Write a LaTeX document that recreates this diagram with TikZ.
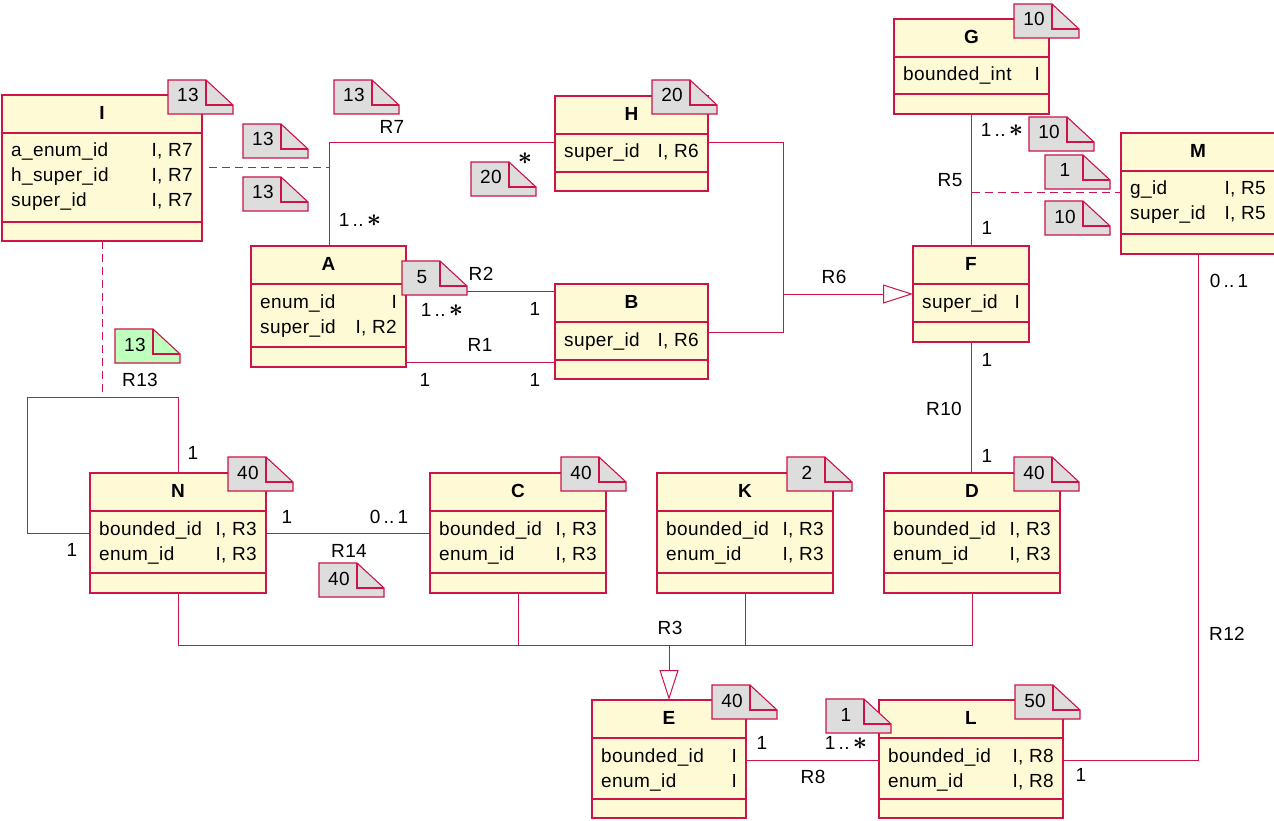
\documentclass[tikz,border=0pt]{standalone}
\usepackage{fontspec}
\setmainfont{Liberation Sans}[LetterSpace=2]
\usetikzlibrary{calc,arrows.meta}
\definecolor{umlred}{RGB}{204,20,72}
\definecolor{umlfill}{RGB}{255,250,214}
\definecolor{notegray}{RGB}{221,221,221}
\definecolor{notegreen}{RGB}{190,255,190}
\newcommand\umlbox[7]{%
  \node[cls, minimum width=#4, minimum height=#5] (#1) at (#2,#3) {};
  \draw[clsline] ($(#1.north west)+(0,38)$) -- ($(#1.north east)+(0,38)$);
  \draw[clsline] ($(#1.north west)+(0,#7)$) -- ($(#1.north east)+(0,#7)$);
  \node[ttl] (#1-t) at ($(#1.north)+(0,19)$) {#6};
}
\newcommand\umlattr[4]{%
  \node[atxt, anchor=west] at ($(#1.north west)+(9,57+25*#2)$) {#3};
  \node[atxt, anchor=east] at ($(#1.north east)+(-9,57+25*#2)$) {#4};
}
\newcommand\umlnote[5]{%
  \filldraw[notebox, fill=#5] (#2,#3) -- ++(38,0) -- ++(27,25) -- ++(0,9) -- ++(-65,0) -- cycle;
  \draw[notebox] (#2+38,#3) -- ++(0,25) -- ++(27,0);
  \node[ntxt] (#1) at (#2+20,#3+17) {#4};
}
\newcommand\bigast{{\fontsize{24.88}{26}\selectfont\boldmath$\ast$}}
\newcommand\onemany{1\,..\,\bigast}
\newcommand\zeroone{0\,..\,1}
\begin{document}
\begin{tikzpicture}[x=1pt,y=-1pt,
  cls/.style={draw=umlred, fill=umlfill, line width=1.2pt, inner sep=0pt, outer sep=0pt, anchor=north west},
  clsline/.style={draw=umlred, line width=1.2pt},
  ttl/.style={font=\fontsize{19}{21}\selectfont\bfseries, inner sep=0pt, text height=14pt, text depth=3pt},
  atxt/.style={font=\fontsize{19}{21}\selectfont, inner sep=0pt, text height=14pt, text depth=4pt},
  lbl/.style={font=\fontsize{19}{21}\selectfont, inner sep=0pt, text height=14pt, text depth=4pt, yshift=-1.5pt},
  ntxt/.style={font=\fontsize{19}{21}\selectfont, inner sep=0pt, text height=14pt, text depth=4pt},
  notebox/.style={draw=umlred, line width=1.1pt, line join=miter},
  conn/.style={draw=umlred, line width=1pt},
  dashline/.style={draw=umlred, line width=1pt, dash pattern=on 8pt off 5pt},
  gen/.style={draw=umlred, line width=1pt, -{Triangle[open, length=30pt, width=19pt]}}
]
\useasboundingbox (0,0) rectangle (1274,821);
\fill[white] (0,0) rectangle (1274,821);

% ---------- classes ----------
\umlbox{I}{2}{95}{200}{146}{I}{127}
\umlattr{I}{0}{a\_enum\_id}{I, R7}
\umlattr{I}{1}{h\_super\_id}{I, R7}
\umlattr{I}{2}{super\_id}{I, R7}

\umlbox{A}{251}{246}{155}{121}{A}{101}
\umlattr{A}{0}{enum\_id}{I}
\umlattr{A}{1}{super\_id}{I, R2}

\umlbox{B}{555}{284}{153}{95}{B}{76}
\umlattr{B}{0}{super\_id}{I, R6}

\umlbox{H}{555}{96}{153}{95}{H}{76}
\umlattr{H}{0}{super\_id}{I, R6}

\umlbox{G}{894}{19}{155}{95}{G}{75}
\umlattr{G}{0}{bounded\_int}{I}

\umlbox{M}{1121}{133}{154}{121}{M}{101}
\umlattr{M}{0}{g\_id}{I, R5}
\umlattr{M}{1}{super\_id}{I, R5}

\umlbox{F}{913}{246}{116}{96}{F}{76}
\umlattr{F}{0}{super\_id}{I}

\umlbox{N}{90}{473}{176}{120}{N}{100}
\umlattr{N}{0}{bounded\_id}{I, R3}
\umlattr{N}{1}{enum\_id}{I, R3}

\umlbox{C}{430}{473}{176}{120}{C}{100}
\umlattr{C}{0}{bounded\_id}{I, R3}
\umlattr{C}{1}{enum\_id}{I, R3}

\umlbox{K}{657}{473}{176}{120}{K}{100}
\umlattr{K}{0}{bounded\_id}{I, R3}
\umlattr{K}{1}{enum\_id}{I, R3}

\umlbox{D}{884}{473}{176}{120}{D}{100}
\umlattr{D}{0}{bounded\_id}{I, R3}
\umlattr{D}{1}{enum\_id}{I, R3}

\umlbox{E}{592}{700}{154}{118}{E}{99}
\umlattr{E}{0}{bounded\_id}{I}
\umlattr{E}{1}{enum\_id}{I}

\umlbox{L}{879}{700}{184}{118}{L}{99}
\umlattr{L}{0}{bounded\_id}{I, R8}
\umlattr{L}{1}{enum\_id}{I, R8}

% ---------- connectors ----------
% R7
\coordinate (r7mid) at (329,168);
\draw[conn] ($(A.north west)+(78,0)$) |- ($(H.north west)+(0,47)$);
\draw[dashline] ($(I.north east)+(7,73)$) -- (r7mid);
\node[lbl] (lR7) at (392,127) {R7};
\node[lbl] (mR7a) at (525,158) {\bigast};
\node[lbl] (mR7b) at (360,220) {\onemany};

% R2
\draw[conn] ($(A.north east)+(0,45)$) -- ($(B.north west)+(0,7)$);
\node[lbl] (lR2) at (481,274) {R2};
\node[lbl] (mR2a) at (442,310) {\onemany};
\node[lbl] (mR2b) at (535,309) {1};

% R1
\draw[conn] ($(A.north east)+(0,116)$) -- ($(B.north west)+(0,78)$);
\node[lbl] (lR1) at (480,345) {R1};
\node[lbl] (mR1a) at (425,380) {1};
\node[lbl] (mR1b) at (535,380) {1};

% R6
\coordinate (r6j) at (783,294);
\draw[conn] ($(H.north east)+(0,47)$) -| (r6j);
\draw[conn] ($(B.north east)+(0,48)$) -| (r6j);
\draw[gen] (r6j) -- (F.west);
\node[lbl] (lR6) at (834,277) {R6};

% R5
\coordinate (r5mid) at (971.5,193);
\draw[conn] (G.south) -- (G.south |- F.north);
\draw[dashline] (r5mid) -- ($(M.north west)+(0,60)$);
\node[lbl] (mR5a) at (1002,130) {\onemany};
\node[lbl] (lR5) at (950,180) {R5};
\node[lbl] (mR5b) at (987,228) {1};

% R10
\draw[conn] (F.south) -- (F.south |- D.north);
\node[lbl] (mR10a) at (987,360) {1};
\node[lbl] (lR10) at (944,409) {R10};
\node[lbl] (mR10b) at (987,456) {1};

% R12
\draw[conn] ($(M.south west)+(77,0)$) |- ($(L.north east)+(0,60)$);
\node[lbl] (mR12a) at (1229,281) {\zeroone};
\node[lbl] (lR12) at (1227,634) {R12};
\node[lbl] (mR12b) at (1081,775) {1};

% R8
\draw[conn] ($(E.north east)+(0,60)$) -- ($(L.north west)+(0,60)$);
\node[lbl] (mR8a) at (762,743) {1};
\node[lbl] (mR8b) at (846,743) {\onemany};
\node[lbl] (lR8) at (813,777) {R8};

% R3
\coordinate (r3j) at (669,645);
\draw[conn] (N.south) |- (r3j);
\draw[conn] (D.south) |- (r3j);
\draw[conn] (C.south) -- (C.south |- r3j);
\draw[conn] (K.south) -- (K.south |- r3j);
\draw[gen] (r3j) -- (E.north);
\node[lbl] (lR3) at (670,628) {R3};

% R14
\draw[conn] ($(N.north east)+(0,60)$) -- ($(C.north west)+(0,60)$);
\node[lbl] (mR14a) at (287,517) {1};
\node[lbl] (mR14b) at (389,517) {\zeroone};
\node[lbl] (lR14) at (349,551) {R14};

% R13
\coordinate (r13c) at (27,397);
\draw[conn] (N.north) |- (r13c) |- (N.west);
\draw[dashline] (I.south) -- (I.south |- r13c);
\node[lbl] (lR13) at (140,380) {R13};
\node[lbl] (mR13a) at (193,453) {1};
\node[lbl] (mR13b) at (72,550) {1};

% ---------- notes ----------
\umlnote{nI}{168}{80}{13}{notegray}
\umlnote{n7a}{334}{80}{13}{notegray}
\umlnote{n7b}{243}{124}{13}{notegray}
\umlnote{n7c}{243}{177}{13}{notegray}
\umlnote{nH}{652}{80}{20}{notegray}
\umlnote{n20}{471}{162}{20}{notegray}
\umlnote{n5}{402}{261}{5}{notegray}
\umlnote{nG}{1014}{4}{10}{notegray}
\umlnote{n10a}{1029}{117}{10}{notegray}
\umlnote{n1a}{1045}{155}{1}{notegray}
\umlnote{n10b}{1045}{201}{10}{notegray}
\umlnote{n13g}{115}{329}{13}{notegreen}
\umlnote{nN}{228}{457}{40}{notegray}
\umlnote{n14}{319}{563}{40}{notegray}
\umlnote{nC}{561}{457}{40}{notegray}
\umlnote{nK}{787}{457}{2}{notegray}
\umlnote{nD}{1014}{457}{40}{notegray}
\umlnote{nE}{712}{685}{40}{notegray}
\umlnote{n1b}{826}{699}{1}{notegray}
\umlnote{nL}{1015}{685}{50}{notegray}
\end{tikzpicture}
\end{document}
